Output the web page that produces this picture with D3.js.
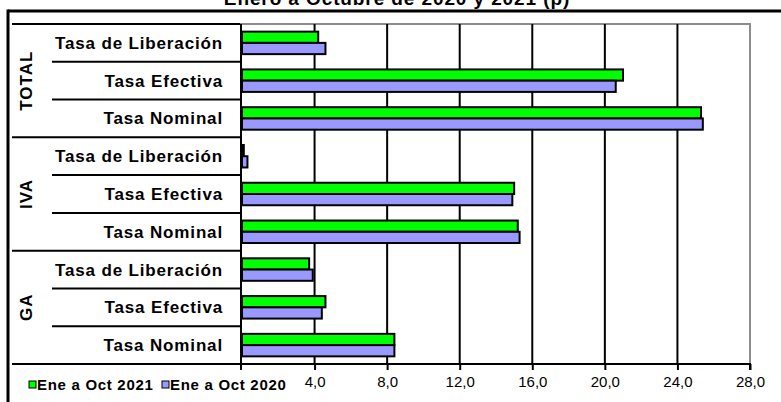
<!DOCTYPE html>
<html>
<head>
<meta charset="utf-8">
<script src="https://cdn.jsdelivr.net/npm/d3@7"></script>
<style>
  body { margin: 0; background: #fff; }
  svg { display: block; font-family: Arial, "Liberation Sans", sans-serif; }
</style>
</head>
<body>
<svg id="chart" width="781" height="402"></svg>
<script>
// data
var groups = ["TOTAL", "IVA", "GA"];
var rates = ["Tasa de Liberación", "Tasa Efectiva", "Tasa Nominal"];
var series = ["Ene a Oct 2021", "Ene a Oct 2020"];
var ene2021 = [4.2, 21.0, 25.3, 0.1, 15.0, 15.2, 3.7, 4.6, 8.4];
var ene2020 = [4.6, 20.6, 25.4, 0.3, 14.9, 15.3, 3.9, 4.4, 8.4];
var xTicks = [4, 8, 12, 16, 20, 24, 28];
var colors = ["#00ff00", "#9999ff"];

var svg = d3.select("#chart");

// plot box (window.top is reserved, so no "top" here)
var pLeft = 242, pRight = 750, pTop = 24, pBottom = 364;

// one row per group/rate pair, top to bottom
var rows = [];
groups.forEach(function(g) {
  rates.forEach(function(r) { rows.push(g + "|" + r); });
});

var x = d3.scaleLinear().domain([0, 28]).range([pLeft, pRight]);
var y = d3.scaleBand().domain(rows).range([pTop, pBottom]);
var ys = d3.scaleBand().domain(series).range([0, y.bandwidth()]).paddingOuter(0.68);

// outer frame
svg.append("line").attr("x1", 8).attr("x2", 781).attr("y1", 11).attr("y2", 11)
  .attr("stroke", "#000").attr("stroke-width", 3);
svg.append("line").attr("x1", 8).attr("x2", 8).attr("y1", 9.5).attr("y2", 402)
  .attr("stroke", "#000").attr("stroke-width", 3);

// title, cut by the top edge
svg.append("text")
  .attr("x", 397).attr("y", 5)
  .attr("text-anchor", "middle")
  .style("font-weight", "bold").style("font-size", "19px")
  .style("letter-spacing", "0.9px")
  .text("Enero a Octubre de 2020 y 2021 (p)");

// plot border (gray top and right)
svg.append("path")
  .attr("d", "M" + (pLeft - 2) + "," + pTop + "H" + pRight + "V" + pBottom)
  .attr("fill", "none").attr("stroke", "#8c8c8c").attr("stroke-width", 2);

// gridlines
svg.append("g").selectAll("line")
  .data(xTicks.slice(0, -1))
  .enter().append("line")
  .attr("x1", function(d) { return x(d); })
  .attr("x2", function(d) { return x(d); })
  .attr("y1", pTop).attr("y2", pBottom)
  .attr("stroke", "#000").attr("stroke-width", 2);

// bars
var data = [];
rows.forEach(function(r, i) {
  data.push({ row: r, s: series[0], v: ene2021[i], c: colors[0] });
  data.push({ row: r, s: series[1], v: ene2020[i], c: colors[1] });
});

svg.append("g").selectAll("rect")
  .data(data)
  .enter().append("rect")
  .attr("x", x(0))
  .attr("y", function(d) { return y(d.row) + ys(d.s); })
  .attr("width", function(d) { return x(d.v) - x(0); })
  .attr("height", ys.bandwidth())
  .attr("fill", function(d) { return d.c; })
  .attr("stroke", "#000").attr("stroke-width", 2);

// left table lines
var table = svg.append("g").attr("stroke", "#000").attr("stroke-width", 2);
rows.forEach(function(r, i) {
  var yy = y(r);
  table.append("line")
    .attr("x1", i % 3 === 0 ? 12 : 52).attr("x2", pLeft - 2)
    .attr("y1", yy).attr("y2", yy);
});
table.append("line").attr("x1", 12).attr("x2", pLeft - 2)
  .attr("y1", pBottom).attr("y2", pBottom);
table.append("line").attr("x1", pLeft - 1).attr("x2", pLeft - 1)
  .attr("y1", pTop).attr("y2", pBottom);

// x axis
var xAxis = d3.axisBottom(x)
  .tickValues(xTicks)
  .tickSize(6)
  .tickFormat(function(d) { return d3.format(".1f")(d).replace(".", ","); });

var ax = svg.append("g")
  .attr("transform", "translate(0," + pBottom + ")")
  .call(xAxis);
ax.select(".domain").attr("d", "M" + (pLeft - 2) + ",0H" + pRight + "V6")
  .attr("stroke-width", 2);
ax.selectAll(".tick line").attr("stroke-width", 2);
ax.selectAll(".tick text")
  .attr("y", 12)
  .style("font-family", "Arial, 'Liberation Sans', sans-serif")
  .style("font-size", "15px").attr("fill", "#000");
// zero tick mark without a label
ax.append("line").attr("x1", pLeft - 1).attr("x2", pLeft - 1).attr("y1", 0).attr("y2", 6)
  .attr("stroke", "#000").attr("stroke-width", 2);

// category labels
svg.append("g").selectAll("text")
  .data(rows)
  .enter().append("text")
  .attr("x", 223)
  .attr("y", function(d) { return y(d) + y.bandwidth() / 2; })
  .attr("dy", "0.35em")
  .attr("text-anchor", "end")
  .style("font-weight", "bold").style("font-size", "17px")
  .style("letter-spacing", "0.85px")
  .text(function(d) { return d.split("|")[1]; });

// group labels, rotated
svg.append("g").selectAll("text")
  .data(groups)
  .enter().append("text")
  .attr("transform", function(g) {
    var y0 = y(g + "|" + rates[0]);
    var y1 = y(g + "|" + rates[2]) + y.bandwidth();
    return "translate(26," + ((y0 + y1) / 2) + ") rotate(-90)";
  })
  .attr("dy", "0.35em")
  .attr("text-anchor", "middle")
  .style("font-weight", "bold").style("font-size", "17px")
  .style("letter-spacing", "1px")
  .text(function(d) { return d; });

// legend
var legend = svg.append("g").selectAll("g")
  .data(series)
  .enter().append("g")
  .attr("transform", function(d, i) { return "translate(" + (i === 0 ? 29 : 162) + ",381)"; });
legend.append("rect")
  .attr("width", 7).attr("height", 7)
  .attr("fill", function(d, i) { return colors[i]; })
  .attr("stroke", "#000").attr("stroke-width", 1);
legend.append("text")
  .attr("x", 8).attr("y", 9)
  .style("font-weight", "bold").style("font-size", "15px")
  .style("letter-spacing", "0.7px")
  .text(function(d) { return d; });
</script>
</body>
</html>
